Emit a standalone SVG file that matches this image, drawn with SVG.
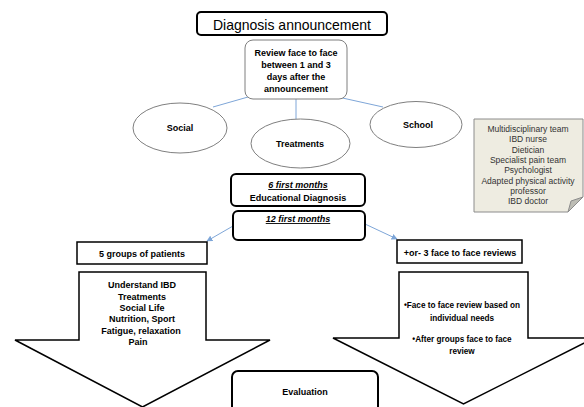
<svg xmlns="http://www.w3.org/2000/svg" width="584" height="407" viewBox="0 0 584 407">
<defs>
<style>
text{font-family:"Liberation Sans",Arial,sans-serif;text-anchor:middle;fill:#000}
.b{font-weight:bold;font-size:9px}
.bx{fill:#fff;stroke:#000;stroke-width:2}
.gr{fill:#fff;stroke:#7f7f7f;stroke-width:1}
.ar{fill:#fff;stroke:#000;stroke-width:1.5;stroke-linejoin:miter}
.cn{stroke:#7ea6d8;stroke-width:1;fill:none}
.note{font-size:8.5px;fill:#333}
.u{font-style:italic;text-decoration:underline}
.rt{font-size:8.2px}
</style>
<marker id="ah" viewBox="0 0 10 10" refX="9" refY="5" markerWidth="6" markerHeight="6" orient="auto" markerUnits="userSpaceOnUse">
<path d="M0,0 L10,5 L0,10 z" fill="#7ea6d8"/>
</marker>
</defs>

<g id="connectors">
<line class="cn" x1="248" y1="97" x2="213" y2="107"/>
<line class="cn" x1="296" y1="99" x2="296" y2="119"/>
<line class="cn" x1="338" y1="97" x2="383" y2="107"/>
<line class="cn" x1="233" y1="226" x2="207" y2="241" marker-end="url(#ah)"/>
<line class="cn" x1="365" y1="224" x2="397" y2="239" marker-end="url(#ah)"/>
</g>

<g id="title">
<rect class="bx" x="197" y="12" width="190" height="23" rx="4"/>
<text x="292" y="30" font-size="15" textLength="158" lengthAdjust="spacingAndGlyphs">Diagnosis announcement</text>
</g>

<g id="review">
<rect class="gr" x="245" y="40" width="102" height="59" rx="8" stroke-width="1.2"/>
<text class="b" x="296" y="55.5">Review face to face</text>
<text class="b" x="296" y="67.5">between 1 and 3</text>
<text class="b" x="296" y="79.5">days after the</text>
<text class="b" x="296" y="91.5">announcement</text>
</g>

<g id="social">
<ellipse class="gr" cx="180" cy="128" rx="47" ry="25"/>
<text class="b" x="180" y="130.5">Social</text>
</g>

<g id="treatments">
<ellipse class="gr" cx="300.5" cy="143.5" rx="49.5" ry="24.5"/>
<text class="b" x="300" y="147">Treatments</text>
</g>

<g id="school">
<ellipse class="gr" cx="416" cy="124.5" rx="46" ry="23"/>
<text class="b" x="418" y="127.5">School</text>
</g>

<g id="team-note">
<path d="M474,119 H583 V197 L568,212 H474 Z" fill="#eeece1" stroke="#8c8c8c" stroke-width="1"/>
<path d="M568,212 L583,197 L571,201 Z" fill="#bdbdb5" stroke="#8c8c8c" stroke-width="1"/>
<text class="note" x="528" y="132">Multidisciplinary team</text>
<text class="note" x="528" y="142.3">IBD nurse</text>
<text class="note" x="528" y="152.6">Dietician</text>
<text class="note" x="528" y="162.9">Specialist pain team</text>
<text class="note" x="528" y="173.2">Psychologist</text>
<text class="note" x="528" y="183.5">Adapted physical activity</text>
<text class="note" x="528" y="193.8">professor</text>
<text class="note" x="528" y="204.1">IBD doctor</text>
</g>

<g id="six-months">
<rect class="bx" x="231" y="174" width="134" height="32" rx="5"/>
<text class="b u" x="298" y="188">6 first months</text>
<text class="b" x="298" y="200.5">Educational Diagnosis</text>
</g>

<g id="twelve-months">
<rect class="bx" x="233" y="211" width="132" height="29" rx="5"/>
<text class="b u" x="298" y="222">12 first months</text>
</g>

<g id="groups">
<rect class="ar" x="77" y="242" width="130" height="22"/>
<text class="b" x="142" y="257">5 groups of patients</text>
</g>

<g id="groups-arrow">
<path class="ar" d="M79,272 H206 V340 H270 L142.5,407 L15,340 H79 Z"/>
<text class="b" x="142" y="288">Understand IBD</text>
<text class="b" x="142" y="300">Treatments</text>
<text class="b" x="142" y="311">Social Life</text>
<text class="b" x="142" y="322">Nutrition, Sport</text>
<text class="b" x="141" y="334">Fatigue, relaxation</text>
<text class="b" x="138" y="345">Pain</text>
</g>

<g id="reviews">
<rect class="ar" x="397" y="240" width="125" height="23"/>
<text class="b" x="460" y="256">+or- 3 face to face reviews</text>
</g>

<g id="reviews-arrow">
<path class="ar" d="M399,272 H528 V338 H594 L463.5,404 L333,338 H399 Z"/>
<text class="b rt" x="462" y="308">•Face to face review based on</text>
<text class="b rt" x="462" y="321">individual needs</text>
<text class="b rt" x="462" y="342">•After groups face to face</text>
<text class="b rt" x="462" y="354">review</text>
</g>

<g id="evaluation">
<rect class="bx" x="232" y="371" width="146" height="44" rx="6"/>
<text class="b" x="305" y="395">Evaluation</text>
</g>
</svg>
